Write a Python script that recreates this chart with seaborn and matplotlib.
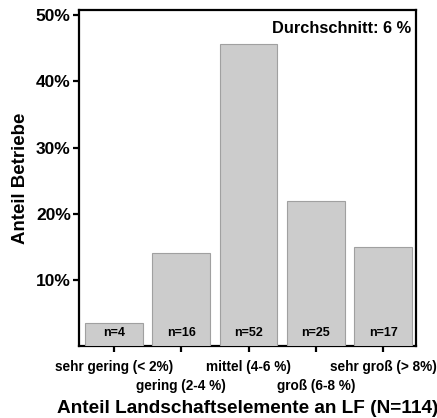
import seaborn as sns
import matplotlib.pyplot as plt
import pandas as pd
import numpy as np

# --- Data ---
categories = ["sehr gering (< 2%)", "gering (2-4 %)", "mittel (4-6 %)",
              "groß (6-8 %)", "sehr groß (> 8%)"]
counts = [4, 16, 52, 25, 17]
total = 114

df = pd.DataFrame({"Kategorie": categories, "n": counts})
df["Anteil"] = df["n"] / total * 100

# --- Visualization ---
sns.set_style("white")
plt.rcParams["font.family"] = ["Liberation Sans", "DejaVu Sans"]
plt.rcParams["font.weight"] = "bold"
plt.rcParams["text.color"] = "black"
plt.rcParams["axes.labelcolor"] = "black"
plt.rcParams["xtick.color"] = "black"
plt.rcParams["ytick.color"] = "black"

fig = plt.figure(figsize=(4.37, 4.18), dpi=100)
ax = fig.add_axes([0.181, 0.172, 0.771, 0.804])

sns.barplot(data=df, x="Kategorie", y="Anteil", color="#cccccc",
            saturation=1, width=0.86, edgecolor="#a0a0a0", linewidth=0.8,
            ax=ax, zorder=3)

ax.set_xlim(-0.52, 4.49)
ax.set_ylim(0, 50.8)
ax.set_yticks([10, 20, 30, 40, 50])
ax.set_yticklabels([f"{v}%" for v in [10, 20, 30, 40, 50]], fontsize=12.5,
                   fontweight="bold")

# alternating two-row category labels
ax.set_xticks(range(len(categories)))
ax.set_xticklabels(categories, fontsize=9.8, fontweight="bold")

for s in ax.spines.values():
    s.set_linewidth(1.6)
    s.set_color("black")
ax.tick_params(axis="both", direction="out", length=4, width=1.6, color="black",
               bottom=True, left=True, pad=2)
for i, tick in enumerate(ax.xaxis.get_major_ticks()):
    tick.set_pad(6 if i % 2 == 0 else 20)

for i, n in enumerate(counts):
    ax.text(i, 2.0, f"n={n}", ha="center", va="center", fontsize=9,
            fontweight="bold", zorder=4)

ax.text(0.985, 0.945, "Durchschnitt: 6 %", transform=ax.transAxes,
        ha="right", va="center", fontsize=11.8, fontweight="bold")

ax.set_xlabel("Anteil Landschaftselemente an LF (N=114)", fontsize=13.7,
              fontweight="bold", labelpad=5)
ax.set_ylabel("Anteil Betriebe", fontsize=13.4, fontweight="bold", labelpad=5)

plt.savefig("out.png", dpi=100)
